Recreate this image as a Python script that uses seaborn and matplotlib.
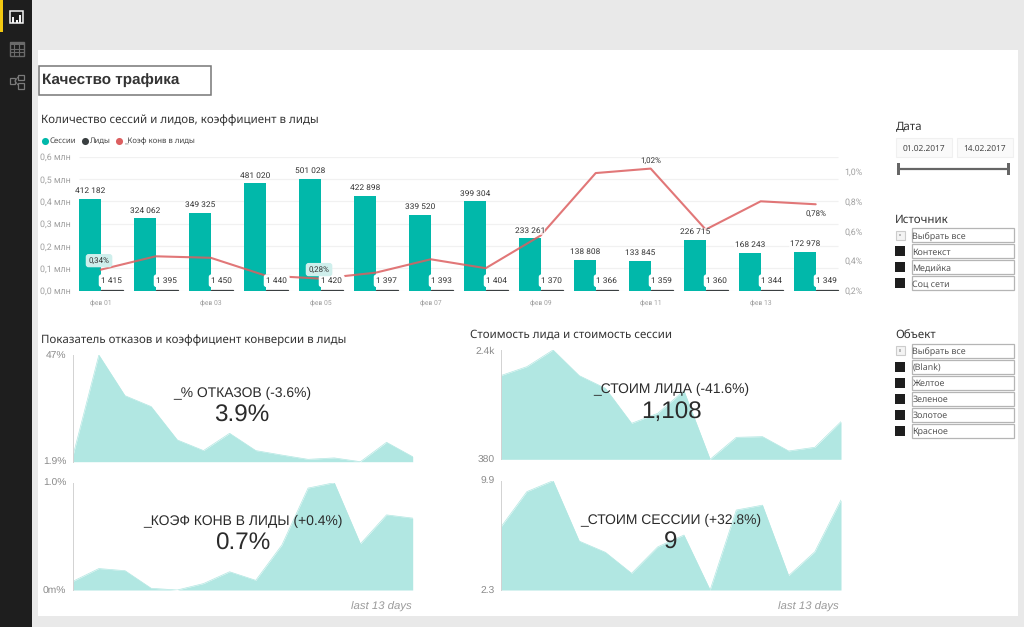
import numpy as np
import pandas as pd
import matplotlib
matplotlib.use("Agg")
import matplotlib.pyplot as plt
from matplotlib.patches import Rectangle
import seaborn as sns

# Data
dates = ["фев 01", "фев 02", "фев 03", "фев 04", "фев 05", "фев 06", "фев 07",
         "фев 08", "фев 09", "фев 10", "фев 11", "фев 12", "фев 13", "фев 14"]
sessions = [412182, 324062, 349325, 481020, 501028, 422898, 339520,
            399304, 233261, 138808, 133845, 226715, 168243, 172978]
leads = [1415, 1395, 1450, 1440, 1420, 1397, 1393, 1404, 1370, 1366, 1359, 1360, 1344, 1349]
conv_rate = [0.34, 0.43, 0.42, 0.30, 0.28, 0.32, 0.41, 0.35, 0.57, 0.99, 1.02, 0.61, 0.80, 0.78]
conv_labels = {0: "0,34%", 4: "0,28%", 10: "1,02%", 13: "0,78%"}

left_ticks = [0, 100000, 200000, 300000, 400000, 500000, 600000]
left_tick_labels = ["0,0 млн", "0,1 млн", "0,2 млн", "0,3 млн", "0,4 млн", "0,5 млн", "0,6 млн"]
right_ticks = [0.2, 0.4, 0.6, 0.8, 1.0]
right_tick_labels = ["0,2%", "0,4%", "0,6%", "0,8%", "1,0%"]

bounce = [4.0, 47, 29.8, 25.2, 11.1, 6.6, 13.9, 6.6, 4.7, 2.9, 3.5, 1.9, 10.1, 4.0]
conv_area = [0.08, 0.20, 0.18, 0.016, 0.0, 0.06, 0.17, 0.09, 0.42, 0.95, 1.0, 0.43, 0.70, 0.67]
lead_cost = [1926, 2092, 2400, 1926, 1692, 1045, 1230, 1649, 380, 786, 799, 534, 602, 1076]
session_cost = [6.66, 9.14, 9.9, 5.7, 4.92, 3.46, 5.3, 6.12, 2.3, 7.86, 8.2, 3.3, 4.96, 8.56]

source_items = ["Выбрать все", "Контекст", "Медийка", "Соц сети"]
object_items = ["Выбрать все", "(Blank)", "Желтое", "Зеленое", "Золотое", "Красное"]

W, H = 1024, 627
TEAL = "#01B8AA"
DARK = "#3A3F41"
RED = "#DC5F60"
AREA = "#B1E7E2"
GREY = "#A0A0A0"
DIN = ["Roboto", "DejaVu Sans"]
SEGOE = ["Noto Sans", "DejaVu Sans"]
ARIAL = ["Liberation Sans", "DejaVu Sans"]

sns.set_theme(style="white")
plt.rcParams["font.family"] = ARIAL
plt.rcParams["text.hinting"] = "none"

fig = plt.figure(figsize=(W / 100, H / 100), dpi=100, facecolor="#E9E9E9")


# Axes placed by pixel box of the screenshot
def px_axes(x0, y0, x1, y1, **kw):
    return fig.add_axes([x0 / W, 1 - y1 / H, (x1 - x0) / W, (y1 - y0) / H], **kw)


def overlay(z):
    a = fig.add_axes([0, 0, 1, 1], zorder=z, facecolor="none")
    a.set_xlim(0, W)
    a.set_ylim(H, 0)
    a.axis("off")
    return a


back = overlay(0)
front = overlay(5)


def box(x0, y0, x1, y1, fc="none", ec="none", lw=1.0):
    back.add_patch(Rectangle((x0, y0), x1 - x0, y1 - y0, facecolor=fc, edgecolor=ec, linewidth=lw))


# Page and left sidebar
box(38, 50, 1018, 616, fc="white")
box(0, 0, 32, H, fc="#1E1E1E")
box(0, 0, 2.5, 32, fc="#F2C811")

# Sidebar icons
box(10, 11, 23, 23, ec="#F4F4F4", lw=1.1)
for bx, bh in zip([12, 15.5, 19], [6, 3.5, 8]):
    box(bx, 23 - bh, bx + 2, 23, fc="#F4F4F4")
box(9.5, 42, 23.5, 56, ec="#6A6A6A", lw=1)
box(9.5, 42, 23.5, 45, fc="#6A6A6A")
for gx in [14.2, 18.9]:
    back.plot([gx, gx], [42, 56], color="#6A6A6A", lw=0.8)
for gy in [48.5, 52.2]:
    back.plot([9.5, 23.5], [gy, gy], color="#6A6A6A", lw=0.8)
box(9.5, 78, 15, 84, ec="#7A7A7A", lw=0.9)
box(18, 74.5, 24, 80, ec="#7A7A7A", lw=0.9)
box(18, 83, 24, 88.5, ec="#7A7A7A", lw=0.9)
back.plot([15, 18], [81, 77], color="#7A7A7A", lw=0.7)
back.plot([15, 18], [81, 85], color="#7A7A7A", lw=0.7)

# Report title
box(38.5, 65.5, 211, 95, fc="white", ec="#777777", lw=1.1)
back.text(42, 80, "Качество трафика", fontsize=11, fontweight="bold", color="#333333",
          va="center")

# Section titles
back.text(41, 120, "Количество сессий и лидов, коэффициент в лиды", fontsize=8.3,
          color="#333333", family=SEGOE, va="center")
back.text(41, 340, "Показатель отказов и коэффициент конверсии в лиды", fontsize=8.3,
          color="#333333", family=SEGOE, va="center")
back.text(470, 334, "Стоимость лида и стоимость сессии", fontsize=8.3,
          color="#333333", family=SEGOE, va="center")

# Legend of the combo chart
for cx, tx, col, name in [(45, 50, TEAL, "Сессии"), (85, 90, DARK, "Лиды"), (119, 124, RED, "_Коэф конв в лиды")]:
    back.scatter([cx], [141], s=26, color=col, linewidths=0)
    back.text(tx, 141, name, fontsize=5.6, color="#444444", family=SEGOE, va="center")

# Combo chart: bars for sessions and leads, line for the rate
df = pd.DataFrame({"date": dates, "Сессии": sessions, "Лиды": leads})
df_long = df.melt(id_vars="date", var_name="series", value_name="value")

ax = px_axes(73.2, 156.7, 843.2, 290.5, zorder=1, facecolor="none")
ax.hlines(left_ticks, -0.4, 13.4, color="#F1F1F1", lw=0.9, zorder=0)
sns.barplot(data=df_long, x="date", y="value", hue="series", order=dates, hue_order=["Сессии", "Лиды"],
            palette=[TEAL, DARK], saturation=1, width=0.8, gap=0, legend=False, ax=ax, zorder=2)
for rect in ax.containers[0]:
    rect.set_linewidth(0)
for rect in ax.containers[1]:
    rect.set_edgecolor(DARK)
    rect.set_linewidth(0.9)
ax.set_xlim(-0.5, 13.5)
ax.set_ylim(0, 600000)
ax.set_xlabel("")
ax.set_ylabel("")
ax.set_yticks(left_ticks, left_tick_labels, fontsize=6.4, color=GREY, family=DIN)
ax.set_xticks(range(0, 14, 2), dates[::2], fontsize=4.9, color=GREY, family=DIN)
ax.tick_params(axis="both", length=0)
ax.tick_params(axis="x", pad=6)
ax.tick_params(axis="y", pad=2)
sns.despine(ax=ax, left=True, bottom=True)

rate_ax = ax.twinx()
sns.lineplot(x=np.arange(len(conv_rate)), y=conv_rate, ax=rate_ax, color=RED, alpha=0.85, linewidth=1.5)
rate_ax.set_ylim(0.2, 1.1)
rate_ax.set_yticks(right_ticks, right_tick_labels, fontsize=6.4, color=GREY, family=DIN)
rate_ax.tick_params(axis="y", length=0, pad=1)
rate_ax.set_ylabel("")
sns.despine(ax=rate_ax, left=True, bottom=True, right=True)

# Value labels go on the top axes so the line stays under them
for i, (s, l) in enumerate(zip(sessions, leads)):
    rate_ax.annotate(f"{s:,}".replace(",", " "), xy=(i - 0.2, s), xycoords=ax.transData,
                     xytext=(0, 3), textcoords="offset points", ha="center", va="bottom",
                     fontsize=6, color="#333333", family=DIN,
                     bbox=dict(boxstyle="square,pad=0.05", fc="white", ec="none", alpha=0.7))
    rate_ax.annotate(f"{l:,}".replace(",", " "), xy=(i + 0.2, l), xycoords=ax.transData,
                     xytext=(0, 6.8), textcoords="offset points", ha="center", va="center",
                     fontsize=6, color="#333333", family=DIN,
                     bbox=dict(boxstyle="round,pad=0.3", fc="white", ec="none"))

for i, text in conv_labels.items():
    if i in (0, 4):
        rate_ax.annotate(text, xy=(i, conv_rate[i]), xytext=(-1.2, 6.5), textcoords="offset points",
                         ha="center", va="center", fontsize=5.8, color="#333333", family=DIN,
                         bbox=dict(boxstyle="round,pad=0.35", fc="#CFEFEC", ec="none"))
    elif i == 10:
        rate_ax.annotate(text, xy=(i, conv_rate[i]), xytext=(0, 6), textcoords="offset points",
                         ha="center", va="center", fontsize=5.8, color="#333333", family=DIN)
    else:
        rate_ax.annotate(text, xy=(i, conv_rate[i]), xytext=(0, -7), textcoords="offset points",
                         ha="center", va="center", fontsize=5.8, color="#333333", family=DIN)


# Small area chart with min and max on the y axis
def area_panel(box_px, values, low, high, low_label, high_label):
    a = px_axes(*box_px, zorder=1, facecolor="none")
    days = np.arange(len(values))
    sns.lineplot(x=days, y=values, ax=a, color=AREA, linewidth=0.5)
    a.fill_between(days, values, low, color=AREA, linewidth=0)
    a.set_xlim(0, len(values) - 1)
    a.set_ylim(low, high)
    a.set_xticks([])
    a.set_yticks([low, high], [low_label, high_label], fontsize=7.4, color="#8A8A8A")
    a.tick_params(axis="y", length=3, width=0.6, color="#C8C8C8", pad=1.5)
    a.set_ylabel("")
    sns.despine(ax=a, bottom=True)
    a.spines["left"].set_color("#D2D2D2")
    a.spines["left"].set_linewidth(0.7)
    return a


area_panel((72.7, 355, 412.7, 461.7), bounce, 1.9, 47, "1.9%", "47%")
area_panel((72.7, 482.7, 412.7, 590), conv_area, 0, 1.0, "0m%", "1.0%")
area_panel((500.7, 350, 841, 459.3), lead_cost, 380, 2400, "380", "2.4k")
area_panel((500.7, 480.7, 841, 590), session_cost, 2.3, 9.9, "2.3", "9.9")

# KPI captions over the areas
kpis = [(242, 393, "_% ОТКАЗОВ (-3.6%)", 415.5, "3.9%"),
        (243, 521.3, "_КОЭФ КОНВ В ЛИДЫ (+0.4%)", 544, "0.7%"),
        (671, 389, "_СТОИМ ЛИДА (-41.6%)", 411.5, "1,108"),
        (671, 520.3, "_СТОИМ СЕССИИ (+32.8%)", 542.5, "9")]
for kx, ky, name, vy, value in kpis:
    front.text(kx, ky, name, fontsize=10, color="#2B2B2B", ha="center", va="center")
    front.text(kx, vy, value, fontsize=17.5, color="#2B2B2B", ha="center", va="center")

front.text(411.7, 607, "last 13 days", fontsize=8.2, style="italic", color="#9A9A9A", ha="right", va="center")
front.text(839, 607, "last 13 days", fontsize=8.2, style="italic", color="#9A9A9A", ha="right", va="center")

# Date slicer
back.text(896, 127, "Дата", fontsize=8.3, color="#333333", family=SEGOE, va="center")
box(896, 138, 952, 157, fc="#FAFAFA", ec="#F0F0F0", lw=0.8)
box(957, 138, 1013, 157, fc="#FAFAFA", ec="#F0F0F0", lw=0.8)
back.text(924, 148.5, "01.02.2017", fontsize=6, color="#444444", family=SEGOE, ha="center", va="center")
back.text(985, 148.5, "14.02.2017", fontsize=6, color="#444444", family=SEGOE, ha="center", va="center")
back.plot([898, 1008], [169, 169], color="#666666", lw=1.6)
box(897, 163, 900, 175, fc="#666666")
box(1006.5, 163, 1009.5, 175, fc="#666666")


# List slicers
def slicer(title, title_y, first_y, items):
    back.text(895, title_y, title, fontsize=8.3, color="#333333", family=SEGOE, va="center")
    for i, item in enumerate(items):
        top = first_y + i * 16
        box(911.5, top, 1014, top + 14.3, fc="white", ec="#B5B5B5", lw=0.9)
        back.text(912.5, top + 8.3, item, fontsize=6.4, color="#555555", family=SEGOE, va="center")
        if i == 0:
            box(895.5, top + 2.5, 904.5, top + 11.5, fc="#F4F4F4", ec="#CCCCCC", lw=0.8)
            box(898.8, top + 5.8, 901.2, top + 8.2, fc="#BBBBBB")
        else:
            box(895, top + 2, 905, top + 12, fc="#1E1E1E")


slicer("Источник", 220, 228, source_items)
slicer("Объект", 334.5, 343.5, object_items)

fig.savefig("out.png", dpi=100)
